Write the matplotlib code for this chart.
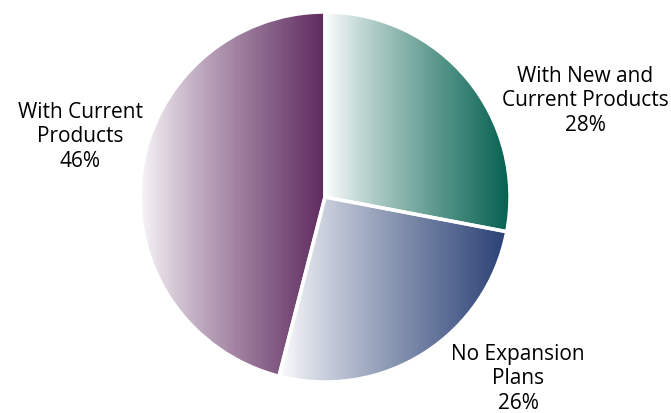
import numpy as np
import matplotlib.pyplot as plt
from matplotlib.colors import LinearSegmentedColormap

plt.rcParams['font.family'] = ['Open Sans', 'DejaVu Sans']

# expansion plans share
labels = ['With New and\nCurrent Products', 'No Expansion\nPlans', 'With Current\nProducts']
shares = [28, 26, 46]
dark = ['#03604f', '#2b4275', '#5e2a5e']

fig = plt.figure(figsize=(6.71, 4.14), dpi=100)
ax = fig.add_axes([0, 0, 1, 1])

wedges, _ = ax.pie(shares, startangle=90, counterclock=False,
                   center=(325, 216), radius=185,
                   explode=[0.018] * 3, frame=True,
                   wedgeprops=dict(facecolor='none', edgecolor='white', linewidth=2.5))
ax.set_xlim(0, 671)
ax.set_ylim(0, 414)
ax.set_aspect('equal')
ax.axis('off')

# horizontal white-to-colour gradient clipped to each wedge
grad = np.linspace(0, 1, 256).reshape(1, -1) ** 0.85
for w, c in zip(wedges, dark):
    cmap = LinearSegmentedColormap.from_list('g', ['white', c])
    verts = w.get_patch_transform().transform(w.get_path().vertices)
    x0, x1 = verts[:, 0].min(), verts[:, 0].max()
    y0, y1 = verts[:, 1].min(), verts[:, 1].max()
    im = ax.imshow(grad, cmap=cmap, extent=[x0, x1, y0, y1], aspect='auto',
                   interpolation='bilinear', zorder=1)
    im.set_clip_path(w)
    w.set_zorder(2)

pos = [(585, 313), (518, 35), (80, 277)]
for (x, y), lab, s in zip(pos, labels, shares):
    ax.text(x, y, f'{lab}\n{s}%', ha='center', va='center', fontsize=15,
            color='black', linespacing=1.2)

fig.savefig('out.png', dpi=100)
